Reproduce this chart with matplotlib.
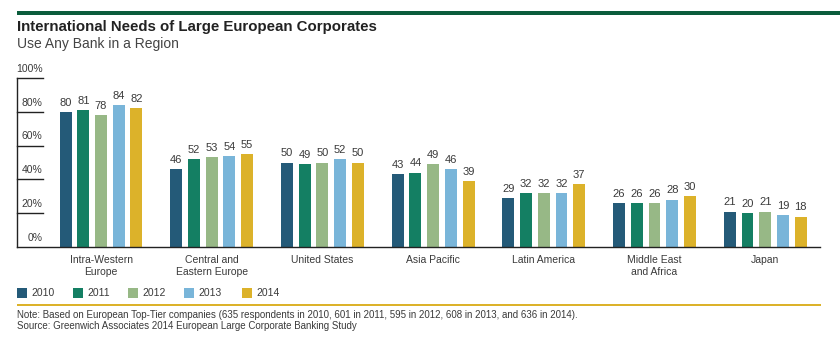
import matplotlib.pyplot as plt
from matplotlib.patches import Rectangle

plt.rcParams['font.family'] = ['Liberation Sans', 'DejaVu Sans']

regions = ["Intra-Western\nEurope", "Central and\nEastern Europe", "United States",
           "Asia Pacific", "Latin America", "Middle East\nand Africa", "Japan"]
years = ["2010", "2011", "2012", "2013", "2014"]
v2010 = [80, 46, 50, 43, 29, 26, 21]
v2011 = [81, 52, 49, 44, 32, 26, 20]
v2012 = [78, 53, 50, 49, 32, 26, 21]
v2013 = [84, 54, 52, 46, 32, 28, 19]
v2014 = [82, 55, 50, 39, 37, 30, 18]
series = [v2010, v2011, v2012, v2013, v2014]
colors = ["#245a78", "#147f63", "#97b886", "#79b5d9", "#dcb22a"]
yticks = [0, 20, 40, 60, 80, 100]

txt = "#3a3a3a"
W, H = 840, 341
fig = plt.figure(figsize=(W / 100, H / 100), dpi=100)

# top bar, title, subtitle
fig.add_artist(Rectangle((17 / W, 1 - 15 / H), 1, 4 / H, transform=fig.transFigure,
                         color="#0b5c3c", lw=0))
fig.text(17 / W, 1 - 27 / H, "International Needs of Large European Corporates",
         fontsize=10.8, fontweight="bold", color="#222222", va="center")
fig.text(17 / W, 1 - 44 / H, "Use Any Bank in a Region", fontsize=10, color="#444444",
         va="center")

ax = fig.add_axes([17 / W, 1 - 247 / H, (820 - 17) / W, (247 - 78) / H])
step = 0.16
width = 0.108
for k, (vals, c) in enumerate(zip(series, colors)):
    xs = [i + (k - 2) * step for i in range(len(regions))]
    ax.bar(xs, vals, width=width, color=c, label=years[k])
    for x, v in zip(xs, vals):
        ax.text(x, v + 2.5, str(v), ha="center", va="bottom", fontsize=8, color=txt)

ax.set_xlim(-0.759, 6.495)
ax.set_ylim(0, 100)
for s in ["top", "right"]:
    ax.spines[s].set_visible(False)
for s in ["left", "bottom"]:
    ax.spines[s].set_color("#222222")
    ax.spines[s].set_linewidth(1.0)
ax.set_xticks([])
ax.set_yticks([])

tr = ax.get_yaxis_transform()
for t in yticks[1:]:
    ax.plot([0, 0.032], [t, t], transform=tr, color="#222222", lw=1.0, clip_on=False)
for t in yticks:
    ax.text(0.032, t + 2.5, f"{t}%", transform=tr, ha="right", va="bottom",
            fontsize=7.5, color=txt)

for i, r in enumerate(regions):
    ax.text(i, -5, r, ha="center", va="top", fontsize=7.5, color=txt, linespacing=1.25)

# legend
lx = [17, 73, 128, 184, 242]
for k, (y, c) in enumerate(zip(years, colors)):
    fig.add_artist(Rectangle((lx[k] / W, 1 - 298 / H), 10 / W, 10 / H,
                             transform=fig.transFigure, color=c, lw=0))
    fig.text((lx[k] + 14) / W, 1 - 293 / H, y, fontsize=7.5, color=txt, va="center")

fig.add_artist(Rectangle((17 / W, 1 - 305.5 / H), (821 - 17) / W, 1.5 / H,
                         transform=fig.transFigure, color="#dcb22a", lw=0))
fig.text(17 / W, 1 - 315 / H,
         "Note: Based on European Top-Tier companies (635 respondents in 2010, 601 in 2011, "
         "595 in 2012, 608 in 2013, and 636 in 2014).", fontsize=7, color=txt, va="center")
fig.text(17 / W, 1 - 326 / H, "Source: Greenwich Associates 2014 European Large Corporate Banking Study",
         fontsize=7, color=txt, va="center")

fig.savefig("out.png", dpi=100)
